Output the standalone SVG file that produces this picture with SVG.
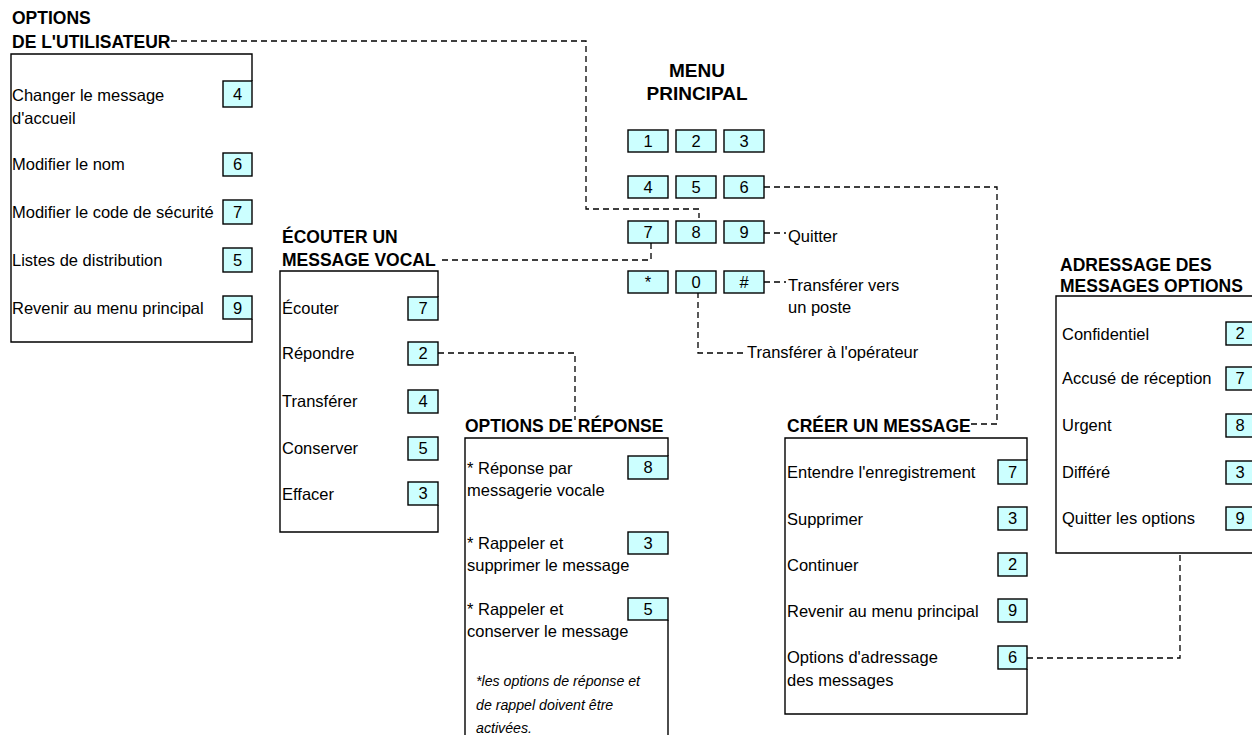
<svg xmlns="http://www.w3.org/2000/svg" width="1252" height="735" viewBox="0 0 1252 735">
<style>
text{font-family:"Liberation Sans",Arial,sans-serif;fill:#000}
.h{font-weight:bold;font-size:17.5px}
.hm{font-weight:bold;font-size:19px;text-anchor:middle}
.t{font-size:16.5px}
.k{font-size:16.5px;text-anchor:middle}
.n{font-size:14.2px;font-style:italic}
.key{fill:#ccffff;stroke:#000;stroke-width:1.4}
.box{fill:none;stroke:#000;stroke-width:1.4}
.d{fill:none;stroke:#000;stroke-width:1.3;stroke-dasharray:6 4}
</style>
<rect width="1252" height="735" fill="#fff"/>
<g id="connectors">
<path class="d" d="M171,41 H586 V209 H699 V218"/>
<path class="d" d="M651,243 V260 H438"/>
<path class="d" d="M764,187 H997 V424 H968"/>
<path class="d" d="M764,233 H786"/>
<path class="d" d="M764,282 H786"/>
<path class="d" d="M698,292 V353 H746"/>
<path class="d" d="M438,353 H575 V420"/>
<path class="d" d="M1027,658 H1180 V553"/>
</g>
<g id="options-utilisateur">
<text class="h" x="12" y="24">OPTIONS</text>
<text class="h" x="12" y="48">DE L'UTILISATEUR</text>
<path class="box" d="M252,81 V54 H11 V342 H252 V319"/>
<text class="t" x="12" y="101">Changer le message</text>
<text class="t" x="12" y="124">d'accueil</text>
<text class="t" x="12" y="170">Modifier le nom</text>
<text class="t" x="12" y="218">Modifier le code de sécurité</text>
<text class="t" x="12" y="266">Listes de distribution</text>
<text class="t" x="12" y="314">Revenir au menu principal</text>
<rect class="key" x="223" y="81" width="29" height="26"/><text class="k" x="237.5" y="100">4</text>
<rect class="key" x="223" y="153" width="29" height="23"/><text class="k" x="237.5" y="170">6</text>
<rect class="key" x="223" y="200" width="29" height="24"/><text class="k" x="237.5" y="218">7</text>
<rect class="key" x="223" y="248" width="29" height="24"/><text class="k" x="237.5" y="266">5</text>
<rect class="key" x="223" y="296" width="29" height="23"/><text class="k" x="237.5" y="314">9</text>
</g>
<g id="menu-principal">
<text class="hm" x="697" y="77">MENU</text>
<text class="hm" x="697" y="100">PRINCIPAL</text>
<rect class="key" x="628" y="130" width="40" height="22"/><text class="k" x="648" y="147">1</text>
<rect class="key" x="676" y="130" width="40" height="22"/><text class="k" x="696" y="147">2</text>
<rect class="key" x="724" y="130" width="40" height="22"/><text class="k" x="744" y="147">3</text>
<rect class="key" x="628" y="176" width="40" height="22"/><text class="k" x="648" y="193">4</text>
<rect class="key" x="676" y="176" width="40" height="22"/><text class="k" x="696" y="193">5</text>
<rect class="key" x="724" y="176" width="40" height="22"/><text class="k" x="744" y="193">6</text>
<rect class="key" x="628" y="221" width="40" height="22"/><text class="k" x="648" y="238">7</text>
<rect class="key" x="676" y="221" width="40" height="22"/><text class="k" x="696" y="238">8</text>
<rect class="key" x="724" y="221" width="40" height="22"/><text class="k" x="744" y="238">9</text>
<rect class="key" x="628" y="271" width="40" height="22"/><text class="k" x="648" y="288">*</text>
<rect class="key" x="676" y="271" width="40" height="22"/><text class="k" x="696" y="288">0</text>
<rect class="key" x="724" y="271" width="40" height="22"/><text class="k" x="744" y="288">#</text>
<text class="t" x="788" y="242">Quitter</text>
<text class="t" x="788" y="291">Transférer vers</text>
<text class="t" x="788" y="313">un poste</text>
<text class="t" x="747" y="358">Transférer à l'opérateur</text>
</g>
<g id="ecouter-message">
<text class="h" x="282" y="243">ÉCOUTER UN</text>
<text class="h" x="282" y="266">MESSAGE VOCAL</text>
<path class="box" d="M438,297 V271 H280 V532 H438 V505"/>
<text class="t" x="282" y="314">Écouter</text>
<text class="t" x="282" y="359">Répondre</text>
<text class="t" x="282" y="407">Transférer</text>
<text class="t" x="282" y="454">Conserver</text>
<text class="t" x="282" y="500">Effacer</text>
<rect class="key" x="408" y="297" width="30" height="23"/><text class="k" x="423" y="314">7</text>
<rect class="key" x="408" y="342" width="30" height="23"/><text class="k" x="423" y="359">2</text>
<rect class="key" x="408" y="390" width="30" height="23"/><text class="k" x="423" y="407">4</text>
<rect class="key" x="408" y="437" width="30" height="23"/><text class="k" x="423" y="454">5</text>
<rect class="key" x="408" y="482" width="30" height="23"/><text class="k" x="423" y="499">3</text>
</g>
<g id="options-reponse">
<text class="h" x="465" y="432">OPTIONS DE RÉPONSE</text>
<path class="box" d="M668,456 V438 H465 V740"/>
<path class="box" d="M668,620 V740"/>
<text class="t" x="467" y="474">* Réponse par</text>
<text class="t" x="467" y="496">messagerie vocale</text>
<text class="t" x="467" y="549">* Rappeler et</text>
<text class="t" x="467" y="571">supprimer le message</text>
<text class="t" x="467" y="615">* Rappeler et</text>
<text class="t" x="467" y="637">conserver le message</text>
<text class="n" x="476" y="686">*les options de réponse et</text>
<text class="n" x="476" y="710">de rappel doivent être</text>
<text class="n" x="476" y="733">activées.</text>
<rect class="key" x="628" y="456" width="40" height="23"/><text class="k" x="648" y="473">8</text>
<rect class="key" x="628" y="532" width="40" height="22"/><text class="k" x="648" y="549">3</text>
<rect class="key" x="628" y="598" width="40" height="22"/><text class="k" x="648" y="615">5</text>
</g>
<g id="creer-message">
<text class="h" x="787" y="432">CRÉER UN MESSAGE</text>
<path class="box" d="M1027,460 V438 H785 V714 H1027 V669"/>
<text class="t" x="787" y="478">Entendre l'enregistrement</text>
<text class="t" x="787" y="525">Supprimer</text>
<text class="t" x="787" y="571">Continuer</text>
<text class="t" x="787" y="617">Revenir au menu principal</text>
<text class="t" x="787" y="663">Options d'adressage</text>
<text class="t" x="787" y="686">des messages</text>
<rect class="key" x="998" y="460" width="29" height="24"/><text class="k" x="1012.5" y="478">7</text>
<rect class="key" x="998" y="507" width="29" height="23"/><text class="k" x="1012.5" y="524">3</text>
<rect class="key" x="998" y="553" width="29" height="23"/><text class="k" x="1012.5" y="570">2</text>
<rect class="key" x="998" y="599" width="29" height="23"/><text class="k" x="1012.5" y="616">9</text>
<rect class="key" x="998" y="646" width="29" height="23"/><text class="k" x="1012.5" y="663">6</text>
</g>
<g id="adressage-options">
<text class="h" x="1060" y="271">ADRESSAGE DES</text>
<text class="h" x="1060" y="292">MESSAGES OPTIONS</text>
<path class="box" d="M1262,296 H1056 V553 H1262"/>
<text class="t" x="1062" y="340">Confidentiel</text>
<text class="t" x="1062" y="384">Accusé de réception</text>
<text class="t" x="1062" y="431">Urgent</text>
<text class="t" x="1062" y="478">Différé</text>
<text class="t" x="1062" y="524">Quitter les options</text>
<rect class="key" x="1226" y="322" width="30" height="23"/><text class="k" x="1240" y="339">2</text>
<rect class="key" x="1226" y="367" width="30" height="23"/><text class="k" x="1240" y="384">7</text>
<rect class="key" x="1226" y="414" width="30" height="23"/><text class="k" x="1240" y="431">8</text>
<rect class="key" x="1226" y="461" width="30" height="23"/><text class="k" x="1240" y="478">3</text>
<rect class="key" x="1226" y="507" width="30" height="23"/><text class="k" x="1240" y="524">9</text>
</g>
</svg>
